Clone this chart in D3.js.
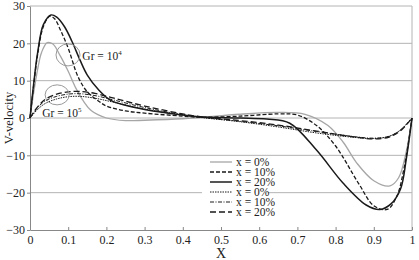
<!DOCTYPE html>
<html lang="en">
  <head>
    <meta charset='utf-8'>
    <script src='https://d3js.org/d3.v7.min.js'></script>
    <title>V-velocity chart</title>
    <style>
      body { margin: 0px; background: #fff; }
      text { font-family: 'Liberation Serif', serif; fill: #222; }
      .grid line { stroke: #b4b4b4; stroke-width: 1; }
      .axis-label { font-size: 14px; }
    </style>
  </head>
  <body>
    <div id='viz'></div>
    <script>
      // x positions in fraction of channel, V values
      const xTicks = [0, 0.1, 0.2, 0.3, 0.4, 0.5, 0.6, 0.7, 0.8, 0.9, 1];
      const yTicks = [-30, -20, -10, 0, 10, 20, 30];

      // Gr = 10^4
      const grayX0 = [[0,0],[0.01,7],[0.02,13],[0.03,17.5],[0.045,20.2],[0.06,19.8],[0.08,16.5],[0.1,12.5],[0.12,8],[0.14,4.5],[0.16,2],[0.2,0],[0.25,-0.7],[0.3,-0.6],[0.4,-0.2],[0.45,0.2],[0.55,1],[0.65,1.5],[0.72,1],[0.78,-2],[0.82,-6.5],[0.855,-12],[0.9,-16.8],[0.942,-18.2],[0.965,-16],[0.985,-9],[1,0]];
      const dashX10 = [[0,0],[0.01,9],[0.02,17],[0.035,24.5],[0.052,27.3],[0.065,26.5],[0.08,23.5],[0.1,18.7],[0.126,11],[0.15,7],[0.18,4.5],[0.2,3.2],[0.25,1.9],[0.3,1.3],[0.4,0.5],[0.45,0.2],[0.55,0.5],[0.65,1.1],[0.7,0.8],[0.75,-2],[0.8,-7.5],[0.86,-17.5],[0.9,-23.5],[0.935,-24.5],[0.96,-21],[0.98,-13],[1,0]];
      const solidX20 = [[0,0],[0.01,9.5],[0.02,17.5],[0.035,25],[0.055,27.6],[0.07,27],[0.09,24.5],[0.11,20.5],[0.131,15.5],[0.15,11.5],[0.18,7.5],[0.21,4.8],[0.25,3.4],[0.3,2.3],[0.4,0.8],[0.45,0.3],[0.55,0],[0.62,-0.3],[0.68,-1.4],[0.75,-8.6],[0.82,-17.5],[0.88,-23.3],[0.916,-24.5],[0.945,-23],[0.97,-19],[0.985,-11],[1,0]];

      // Gr = 10^5
      const dotX0 = [[0,0],[0.02,2.3],[0.04,3.9],[0.07,5.1],[0.1,5.7],[0.13,5.8],[0.17,5.3],[0.22,4.2],[0.3,2.4],[0.4,0.8],[0.45,0.1],[0.55,-1],[0.65,-2.4],[0.75,-4],[0.85,-5.2],[0.9,-5.5],[0.94,-4.9],[0.97,-3.2],[1,0]];
      const dashDotX10 = [[0,0],[0.02,2.8],[0.04,4.6],[0.07,5.8],[0.1,6.4],[0.13,6.5],[0.17,6],[0.22,4.8],[0.3,2.8],[0.4,0.9],[0.45,0.2],[0.55,-0.9],[0.65,-2.1],[0.75,-3.6],[0.85,-5],[0.9,-5.4],[0.94,-4.9],[0.97,-3.2],[1,0]];
      const longDashX20 = [[0,0],[0.02,3],[0.04,5],[0.07,6.4],[0.1,7],[0.13,7.1],[0.17,6.6],[0.22,5.3],[0.3,3.2],[0.4,1.1],[0.45,0.3],[0.55,-0.7],[0.65,-1.9],[0.75,-3.5],[0.85,-5.1],[0.9,-5.6],[0.94,-5.1],[0.97,-3.4],[1,0]];

      const legendLabels = ['x = 0%', 'x = 10%', 'x = 20%', 'x = 0%', 'x = 10%', 'x = 20%'];

      const series = [
        { data: grayX0,     color: '#a6a6a6', width: 1.3, dash: null },
        { data: dashX10,    color: '#1a1a1a', width: 1.3, dash: '4,2' },
        { data: solidX20,   color: '#1a1a1a', width: 1.5, dash: null },
        { data: dotX0,      color: '#1a1a1a', width: 1,   dash: '1.5,1' },
        { data: dashDotX10, color: '#1a1a1a', width: 1,   dash: '4,1.5,1,1.5' },
        { data: longDashX20,color: '#1a1a1a', width: 1.3, dash: '6,3' }
      ];

      const width = 419, height = 260;
      const margin = { left: 30, right: 7, top: 6, bottom: 30 };
      const innerWidth = width - margin.left - margin.right;
      const innerHeight = height - margin.top - margin.bottom;

      const svg = d3.select('#viz').append('svg')
        .attr('width', width)
        .attr('height', height);

      const g = svg.append('g')
        .attr('transform', `translate(${margin.left},${margin.top})`);

      const xScale = d3.scaleLinear().domain([0, 1]).range([0, innerWidth]);
      const yScale = d3.scaleLinear().domain([-30, 30]).range([innerHeight, 0]);

      // gridlines
      g.append('g').attr('class', 'grid')
        .selectAll('line').data(yTicks.filter(d => d > -30))
        .enter().append('line')
          .attr('x1', 0).attr('x2', innerWidth)
          .attr('y1', d => yScale(d)).attr('y2', d => yScale(d));

      // right border
      g.append('line')
        .attr('x1', innerWidth).attr('x2', innerWidth)
        .attr('y1', 0).attr('y2', innerHeight)
        .attr('stroke', '#b4b4b4');

      const xAxis = d3.axisBottom(xScale)
        .tickValues(xTicks)
        .tickFormat(d => d3.format('')(d))
        .tickSizeInner(-3).tickSizeOuter(0)
        .tickPadding(5);
      const yAxis = d3.axisLeft(yScale)
        .tickValues(yTicks)
        .tickSizeInner(3).tickSizeOuter(0)
        .tickPadding(2);

      const xAxisG = g.append('g')
        .attr('transform', `translate(0,${innerHeight})`)
        .call(xAxis);
      const yAxisG = g.append('g').call(yAxis);
      [xAxisG, yAxisG].forEach(a => {
        a.attr('font-family', null).attr('font-size', null);
        a.select('.domain').attr('stroke', '#888');
        a.selectAll('.tick line').attr('stroke', '#888');
        a.selectAll('.tick text').attr('fill', '#222')
          .style('font-family', "'Liberation Serif', serif")
          .style('font-size', '12px');
      });

      // legend box (covers gridlines)
      const legendG = g.append('g').attr('transform', 'translate(172,151)');
      legendG.append('rect')
        .attr('x', 0).attr('y', 0).attr('width', 66).attr('height', 60)
        .attr('fill', '#fff');

      const line = d3.line()
        .x(d => xScale(d[0]))
        .y(d => yScale(d[1]))
        .curve(d3.curveCatmullRom.alpha(0.5));

      g.selectAll('path.series').data(series)
        .enter().append('path')
          .attr('class', 'series')
          .attr('d', d => line(d.data))
          .attr('fill', 'none')
          .attr('stroke', d => d.color)
          .attr('stroke-width', d => d.width)
          .attr('stroke-dasharray', d => d.dash);

      // legend entries
      const entry = legendG.selectAll('g.entry').data(series)
        .enter().append('g')
          .attr('class', 'entry')
          .attr('transform', (d, i) => `translate(8,${5 + i * 10})`);
      entry.append('line')
        .attr('x1', 0).attr('x2', 22)
        .attr('stroke', d => d.color === '#a6a6a6' ? '#a6a6a6' : (d.dash === null ? '#555' : '#1a1a1a'))
        .attr('stroke-width', d => d.dash === null && d.color !== '#a6a6a6' ? 2 : d.width)
        .attr('stroke-dasharray', d => d.dash);
      entry.append('text')
        .attr('x', 26).attr('y', 4)
        .style('font-size', '11.5px')
        .text((d, i) => legendLabels[i]);

      // Gr annotations
      const ann = [
        { cx: 0.0995, cy: 16.9, rx: 12, ry: 11, tx: 0.137, ty: 15.5, exp: '4' },
        { cx: 0.071, cy: 6.2, rx: 12, ry: 10, tx: 0.032, ty: 0.3, exp: '5' }
      ];
      ann.forEach(a => {
        g.append('ellipse')
          .attr('cx', xScale(a.cx)).attr('cy', yScale(a.cy))
          .attr('rx', a.rx).attr('ry', a.ry)
          .attr('fill', 'none').attr('stroke', '#999').attr('stroke-width', 1);
        const t = g.append('text')
          .attr('x', xScale(a.tx)).attr('y', yScale(a.ty))
          .style('font-size', '11.5px');
        t.append('tspan').text('Gr = 10');
        t.append('tspan').attr('dy', -5).style('font-size', '7px').text(a.exp);
      });

      // axis labels
      g.append('text').attr('class', 'axis-label')
        .attr('x', innerWidth / 2).attr('y', innerHeight + 28)
        .style('text-anchor', 'middle')
        .text('X');
      g.append('text').attr('class', 'axis-label')
        .attr('transform', `translate(${-margin.left + 13},${innerHeight / 2}) rotate(-90)`)
        .style('text-anchor', 'middle')
        .style('font-size', '12.5px')
        .text('V-velocity');
    </script>
  </body>
</html>
